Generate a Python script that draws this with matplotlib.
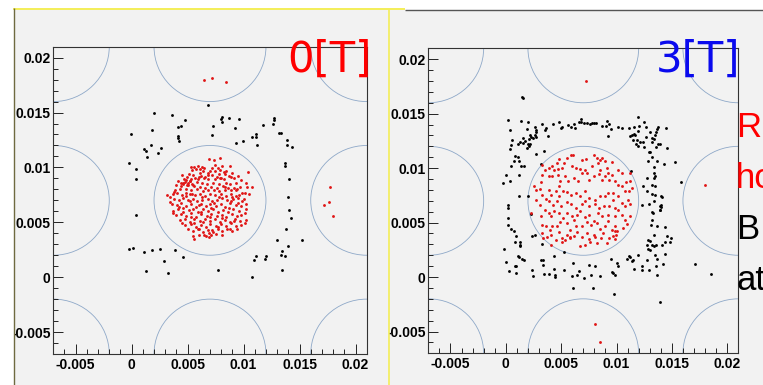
import numpy as np
import matplotlib.pyplot as plt
from matplotlib.patches import Circle, Rectangle
from matplotlib.lines import Line2D
from matplotlib.ticker import MultipleLocator, FuncFormatter

plt.rcParams['font.family'] = ['Liberation Sans', 'DejaVu Sans']
plt.rcParams['font.weight'] = 'bold'

W, H = 763, 385

# --- hit positions on the plane (mm) ---
# 0 T: red = through the central hole, black = stopped elsewhere
red_0T = [
    (6.88, 10.73), (7.38, 10.64), (7.86, 10.82),
    (6.28, 10.03), (6.07, 9.88), (6.49, 9.94), (7.41, 10.21), (8.10, 10.09), (5.33, 10.00), (5.57, 10.06),
    (5.89, 10.12), (7.17, 9.97), (7.71, 9.94), (8.78, 10.12),
    (5.42, 9.73), (5.77, 9.82), (6.37, 9.70), (6.82, 9.52), (6.96, 9.70), (7.44, 9.64), (7.92, 9.76),
    (8.21, 9.61), (8.42, 9.64), (8.96, 9.52), (10.36, 9.55), (5.09, 9.42), (6.13, 9.45), (7.83, 9.42), (8.30, 9.39),
    (4.52, 9.27), (4.94, 9.12), (5.51, 9.27), (6.16, 9.21), (6.58, 9.15), (7.17, 9.27), (7.62, 9.15),
    (8.01, 9.03), (8.69, 9.21), (8.87, 9.15), (9.46, 9.21), (4.82, 8.85), (5.24, 8.76), (5.33, 8.91),
    (5.63, 9.06), (5.89, 8.97), (6.43, 9.00), (6.85, 8.91), (7.47, 8.91), (8.21, 8.91), (9.11, 9.03), (9.76, 8.82),
    (4.17, 8.76), (4.55, 8.61), (5.06, 8.61), (5.39, 8.52), (5.80, 8.67), (6.28, 8.58), (6.73, 8.45),
    (7.23, 8.61), (7.83, 8.48), (8.39, 8.61), (8.78, 8.45), (9.32, 8.61), (10.18, 8.55), (3.93, 8.36),
    (4.43, 8.30), (4.91, 8.39),
    (5.57, 8.30), (6.13, 8.24), (6.58, 8.12), (7.11, 8.24), (7.62, 8.15), (8.13, 8.30), (8.60, 8.12),
    (9.11, 8.15), (9.70, 8.24), (10.33, 8.21), (10.74, 8.21), (4.29, 8.06), (3.90, 7.94), (4.85, 8.00),
    (5.30, 7.94), (5.83, 8.00), (6.34, 7.85), (6.82, 7.94), (7.35, 7.91), (7.80, 7.82), (8.36, 7.91),
    (8.84, 7.94), (9.38, 8.00), (9.88, 7.70),
    (3.18, 7.45), (3.66, 7.58), (4.08, 7.64), (4.46, 7.52), (4.82, 7.39), (5.21, 7.61), (5.65, 7.45),
    (6.10, 7.55), (6.58, 7.39), (7.02, 7.58), (7.47, 7.45), (8.01, 7.61), (8.45, 7.39), (8.90, 7.55),
    (9.32, 7.39), (9.61, 7.45), (10.09, 7.64), (10.48, 7.55), (3.45, 7.27),
    (3.81, 7.15), (4.23, 7.03), (4.61, 7.21), (5.03, 7.00), (5.45, 7.12), (5.86, 6.91), (6.31, 7.03),
    (6.79, 7.12), (7.17, 6.91), (7.62, 7.03), (8.07, 7.18), (8.54, 7.00), (9.02, 7.09), (9.46, 7.21),
    (9.82, 6.91), (3.42, 6.85),
    (3.60, 6.67), (4.05, 6.58), (4.40, 6.76), (4.88, 6.48), (5.30, 6.64), (5.71, 6.42), (6.16, 6.70),
    (6.64, 6.52), (7.02, 6.67), (7.50, 6.48), (7.95, 6.64), (8.36, 6.42), (8.81, 6.73), (9.29, 6.55),
    (9.76, 6.48), (10.24, 6.64), (4.61, 6.33),
    (3.72, 6.03), (4.14, 6.18), (5.09, 6.09), (5.51, 6.21), (5.92, 5.94), (6.40, 6.18), (6.82, 6.03),
    (7.26, 6.24), (7.71, 5.97), (8.15, 6.15), (8.60, 5.94), (9.08, 6.18), (9.55, 6.03), (10.21, 6.18), (3.66, 5.88),
    (3.99, 5.67), (4.43, 5.79), (4.88, 5.58), (5.33, 5.82), (5.77, 5.48), (6.22, 5.73), (6.70, 5.55),
    (7.11, 5.79), (7.59, 5.55), (8.04, 5.70), (8.45, 5.52), (8.93, 5.76), (9.38, 5.55), (9.79, 5.70), (10.15, 5.88),
    (4.29, 5.21), (4.73, 5.33), (5.18, 5.06), (5.60, 5.27), (6.07, 5.12), (6.52, 5.33), (6.96, 5.09),
    (7.41, 5.27), (7.86, 5.03), (8.30, 5.21), (8.75, 5.06), (9.23, 5.33), (9.70, 5.12), (10.18, 5.21), (4.49, 4.97),
    (4.76, 4.73), (5.27, 4.88), (5.71, 4.61), (6.16, 4.79), (6.61, 4.61), (7.02, 4.88), (7.50, 4.67),
    (7.95, 4.82), (8.42, 4.64), (8.84, 4.91), (9.29, 4.67), (9.76, 4.79), (10.12, 4.97),
    (5.00, 4.36), (5.45, 4.18), (5.89, 4.42), (6.37, 4.12), (6.79, 4.30), (7.23, 4.12), (7.68, 4.42),
    (8.10, 4.24), (8.54, 4.36), (8.99, 4.18), (9.38, 4.42), (6.88, 4.06),
    (5.51, 3.76), (6.04, 3.88), (6.64, 3.79), (7.05, 3.85), (7.53, 3.97), (8.07, 3.85), (5.57, 3.52), (6.88, 3.67),
    (4.6, 8.5), (4.8, 8.7), (5.0, 8.4), (4.7, 8.9), (5.2, 8.8), (4.4, 8.6), (5.5, 8.4), (6.0, 9.1),
    (6.8, 9.3), (7.9, 9.0), (8.3, 8.2), (9.0, 7.3), (7.8, 7.3), (6.3, 7.3), (5.4, 7.6), (4.9, 7.7),
    (8.9, 6.9), (7.4, 6.8), (6.0, 6.6), (5.2, 6.9), (4.2, 6.4), (9.5, 6.8), (8.7, 6.3), (7.1, 6.3),
    (6.2, 5.9), (5.3, 5.5), (4.6, 5.9), (8.1, 5.4), (9.1, 5.1), (7.0, 5.5), (6.4, 5.0), (5.6, 4.9),
    (7.7, 4.6), (8.8, 4.4), (6.0, 4.4), (7.2, 4.3), (6.5, 3.8), (9.3, 7.9), (3.8, 7.8), (10.0, 7.1),
    # neighbouring holes
    (6.49, 17.94), (7.20, 18.12), (8.39, 17.76),
    (17.68, 8.24), (17.62, 6.88), (17.20, 6.58), (17.95, 5.61),
]

black_0T = [
    (6.85, 15.70), (-0.03, 13.00), (1.96, 14.94), (3.63, 14.82), (1.79, 13.39), (4.76, 14.33),
    (4.37, 13.76), (4.11, 13.70), (8.09, 14.57), (8.01, 14.45), (8.04, 14.15), (7.23, 13.79),
    (9.58, 14.42), (9.26, 13.57), (7.14, 12.91), (4.14, 12.85), (4.14, 12.67), (4.26, 12.42),
    (1.10, 11.64), (1.25, 11.51), (1.40, 10.94), (1.76, 12.00), (2.65, 11.79), (2.32, 11.30),
    (-0.21, 10.39), (0.42, 9.82), (0.42, 8.94), (0.42, 5.70), (9.31, 12.18), (9.94, 12.42),
    (10.71, 12.76), (11.07, 12.76), (11.10, 13.00), (11.16, 12.03), (11.76, 13.85), (12.68, 14.51),
    (12.68, 14.36), (12.65, 13.97), (13.18, 13.18), (13.30, 13.12), (13.87, 12.51), (13.87, 12.00),
    (14.29, 11.82), (13.69, 10.39), (13.69, 10.12), (14.02, 8.94), (13.99, 7.30), (14.02, 6.09),
    (14.26, 5.42), (13.78, 4.36), (15.21, 3.42), (12.95, 3.42), (13.99, 2.85), (13.45, 2.39),
    (13.36, 2.06), (13.69, 1.91), (13.42, 0.61), (12.02, 1.97), (11.93, 1.67), (11.13, 1.97),
    (10.89, 1.58), (10.71, 0.06), (7.68, 0.61), (4.58, 1.82), (3.90, 2.48), (2.92, 1.48),
    (3.27, 0.36), (2.56, 2.55), (1.79, 2.48), (1.07, 2.30), (1.25, 0.55), (0.12, 2.64),
    (-0.21, 2.55), (8.72, 14.51),
]

# 3 T
red_3T = [
    (5.24, 10.46), (5.54, 10.89), (5.89, 11.19), (6.10, 11.22), (6.91, 10.70), (7.27, 10.83), (7.99, 11.25),
    (8.23, 10.92), (8.47, 10.76), (8.68, 10.89), (8.98, 10.61), (9.58, 10.52), (4.79, 10.83), (4.64, 10.46),
    (4.19, 10.24), (3.29, 10.31), (3.53, 9.85), (3.89, 10.00), (4.34, 9.85), (4.70, 9.91), (5.09, 10.00),
    (5.98, 10.15), (6.37, 10.00), (6.73, 9.91), (7.18, 9.79), (7.78, 10.15), (8.32, 10.46), (8.53, 9.85),
    (9.13, 10.00), (9.22, 9.54), (9.58, 9.39), (10.17, 9.79), (10.47, 9.54), (11.22, 9.54),
    (3.14, 8.69), (3.29, 9.39), (3.89, 9.24), (4.19, 9.24), (4.67, 9.33), (4.79, 8.32), (4.94, 8.78),
    (5.39, 9.24), (5.63, 8.78), (6.13, 9.08), (6.52, 8.78), (6.88, 9.54), (7.33, 9.54), (7.54, 8.93),
    (7.93, 9.30), (8.38, 9.48), (8.68, 8.93), (8.98, 9.24), (9.28, 8.93), (9.87, 8.78), (10.17, 8.47),
    (10.53, 8.32), (10.83, 8.69), (11.22, 8.78),
    (2.54, 8.32), (2.69, 7.95), (3.05, 8.07), (3.29, 7.55), (3.89, 8.01), (4.04, 7.55), (4.49, 7.86),
    (4.79, 7.40), (5.15, 7.92), (5.57, 7.77), (5.92, 7.55), (6.34, 7.71), (6.73, 7.40), (7.18, 7.86),
    (7.48, 7.25), (8.02, 7.09), (8.53, 7.40), (8.98, 7.40), (9.22, 7.71), (9.72, 7.71), (10.17, 7.40),
    (10.47, 6.79), (10.77, 7.86), (11.16, 7.92), (11.37, 8.17),
    (2.69, 7.09), (3.08, 6.64), (3.59, 7.16), (3.89, 6.94), (4.28, 6.64), (4.64, 6.94), (5.03, 6.48),
    (5.51, 6.85), (5.92, 6.73), (6.34, 6.33), (6.88, 6.67), (7.12, 6.94), (7.54, 6.48), (8.02, 6.73),
    (8.38, 6.33), (8.83, 6.48), (9.28, 6.48), (9.72, 7.09), (9.87, 6.33), (10.17, 6.18), (10.77, 6.48),
    (11.22, 6.73), (11.01, 7.09),
    (2.24, 5.87), (3.17, 5.57), (3.50, 6.18), (3.89, 5.87), (4.10, 5.57), (4.34, 6.02), (4.79, 5.87),
    (5.15, 5.41), (5.54, 5.87), (5.98, 5.57), (6.43, 5.72), (6.73, 6.02), (7.18, 5.50), (7.54, 5.72),
    (7.93, 5.11), (8.32, 5.87), (8.68, 5.57), (9.22, 5.72), (9.87, 5.57), (10.53, 5.72), (10.77, 5.26),
    (11.22, 5.57),
    (3.29, 4.80), (3.59, 4.65), (3.98, 4.34), (4.19, 4.65), (4.64, 4.65), (4.94, 5.02), (5.54, 4.95),
    (5.83, 4.34), (6.13, 5.26), (6.37, 4.65), (6.88, 4.65), (7.33, 5.02), (7.72, 4.80), (8.23, 4.95),
    (8.53, 4.40), (8.92, 4.65), (9.22, 5.11), (9.63, 4.34), (9.87, 4.65), (10.08, 4.19), (10.62, 4.50),
    (10.92, 4.89),
    (3.40, 3.60), (3.29, 4.04), (3.74, 3.67), (4.04, 3.88), (4.49, 3.43), (4.79, 4.10), (5.09, 3.58),
    (5.54, 3.88), (5.83, 3.58), (6.13, 3.73), (6.43, 4.10), (6.88, 3.67), (7.33, 4.04), (7.93, 3.88),
    (8.08, 3.67), (8.74, 4.04), (9.28, 3.58), (9.72, 3.73), (9.87, 4.19), (9.96, 3.88),
    (4.04, 2.97), (5.09, 3.18), (5.39, 3.43), (5.83, 3.67), (6.73, 2.81), (7.18, 2.97), (7.63, 3.18),
    (8.23, 3.12), (8.62, 3.58), (9.13, 3.12), (9.87, 3.49), (7.54, 3.49),
    # neighbouring holes
    (7.28, 18.04), (8.08, -4.28), (8.47, -5.96), (17.96, 8.41),
]

black_3T = [
    (1.44, 16.57), (1.56, 16.48), (0.21, 14.43), (1.41, 14.37), (1.97, 14.25), (0.39, 13.52), (1.92, 13.55),
    (2.60, 13.73), (2.69, 13.52), (2.72, 13.30), (2.63, 13.06), (2.72, 12.84), (2.48, 12.75), (2.18, 13.06),
    (2.30, 12.87), (2.09, 12.63), (1.56, 12.75), (1.74, 12.51), (1.53, 12.29), (1.26, 12.39), (1.14, 12.26),
    (2.03, 12.26), (2.21, 12.20), (2.06, 12.05), (1.92, 11.83), (0.54, 12.54), (0.48, 12.14), (0.36, 11.77),
    (0.81, 11.07), (1.11, 10.98), (0.75, 10.67), (1.20, 10.67), (0.48, 10.15), (1.35, 10.24), (1.68, 10.21),
    (2.69, 11.28), (3.44, 11.59), (3.20, 10.34), (3.23, 14.04), (3.62, 13.67), (3.53, 13.52), (3.80, 12.97),
    (4.25, 14.04), (4.79, 14.19), (5.09, 13.82), (4.97, 13.64), (5.66, 13.98), (5.92, 13.79), (6.22, 13.67),
    (6.16, 14.04), (6.58, 14.19), (6.79, 14.53), (6.76, 14.28), (7.06, 14.16), (7.36, 14.10), (7.63, 14.04),
    (7.78, 14.10), (7.99, 14.10), (8.11, 14.10), (8.68, 13.85), (9.16, 14.31), (9.07, 13.91), (9.31, 14.07),
    (9.46, 13.55), (9.19, 12.94), (10.14, 13.79), (10.50, 13.64), (11.13, 13.64), (11.61, 13.82),
    (11.94, 14.68), (12.48, 14.22), (12.69, 13.73), (12.03, 13.85), (11.91, 13.43), (11.37, 13.06),
    (11.55, 13.15), (11.70, 13.00), (11.22, 12.91), (11.49, 12.60), (11.82, 12.60), (12.09, 12.39),
    (11.97, 11.99), (11.76, 12.26), (12.36, 12.39), (12.69, 12.87), (13.20, 12.81), (13.02, 13.30),
    (13.20, 12.39), (13.79, 12.26), (13.97, 12.17), (13.58, 11.96), (13.73, 13.82), (13.67, 13.61),
    (13.58, 13.36), (13.44, 13.06), (13.35, 12.69), (14.51, 13.67), (14.54, 11.83), (12.48, 11.96),
    (12.90, 11.44), (13.05, 11.44), (13.20, 10.98), (12.87, 10.61), (13.67, 10.67), (13.35, 10.09),
    (14.30, 10.37), (15.32, 10.55),
    (0.06, 9.33), (1.20, 9.39), (0.39, 8.84), (-0.24, 8.62), (1.23, 7.46), (2.00, 7.46), (0.18, 6.64),
    (0.21, 6.33), (2.24, 5.81), (0.21, 5.41), (0.21, 4.80), (0.51, 4.40), (0.75, 4.19), (0.93, 3.73),
    (2.33, 3.79), (2.63, 3.85), (11.31, 9.69), (12.72, 9.08), (13.38, 9.54), (13.44, 9.30), (13.38, 9.08),
    (12.42, 8.32), (13.17, 8.47), (13.47, 8.32), (12.75, 7.86), (13.17, 7.61), (13.47, 7.55), (14.03, 7.46),
    (14.09, 7.34), (12.27, 6.64), (12.96, 6.73), (14.00, 6.64), (14.06, 6.42), (13.94, 6.12), (13.17, 5.93),
    (13.20, 5.26), (13.08, 4.74), (13.64, 4.65), (14.36, 4.59), (13.41, 3.88), (12.87, 3.43), (13.05, 3.33),
    (14.60, 3.73), (14.93, 3.58), (14.87, 3.18), (14.36, 3.24), (15.80, 8.72), (13.32, 5.87), (13.41, 6.94),
    (13.94, 6.48), (13.94, 6.18),
    (0.84, 3.18), (1.26, 3.21), (1.32, 2.91), (1.26, 2.81), (-0.15, 2.57), (1.14, 1.96), (1.23, 1.83),
    (0.84, 1.04), (0.96, 0.98), (0.03, 1.38), (0.30, 0.52), (0.93, 0.37), (1.50, 1.65), (1.62, 1.53),
    (2.33, 0.61), (2.45, 0.06), (3.29, 2.99), (3.20, 1.59), (3.35, 1.53), (3.38, 1.07), (3.41, 0.24),
    (3.89, 0.31), (4.34, 1.90), (4.34, 0.73), (4.40, 0.21), (4.43, 0.00), (5.27, 2.26), (5.30, 0.61),
    (6.07, 1.28), (5.95, 0.12), (6.58, 0.58), (6.43, 0.21), (6.10, -1.04), (7.03, -0.09), (7.48, 1.10),
    (7.66, 0.18), (8.02, 1.04), (7.87, -0.98), (8.53, 0.12), (9.46, 1.68), (9.58, 0.49), (9.72, 0.34),
    (9.90, 0.21), (10.05, 1.28), (10.11, 0.98), (9.81, -1.53), (10.92, 1.65), (11.10, 1.96), (11.22, 1.80),
    (11.43, 1.44), (11.52, 1.53), (11.58, 0.76), (11.97, 1.99), (12.27, 1.04), (12.30, 0.67), (12.75, 1.53),
    (12.93, 0.67), (13.55, 0.98), (13.47, 2.05), (13.64, 1.65), (13.70, 0.21), (14.21, 1.22), (14.42, 2.08),
    (12.72, 2.97), (13.17, 2.94), (13.38, 2.87), (13.61, 2.91), (14.15, 2.91), (12.87, 2.57), (13.02, 2.51),
    (13.97, -2.26), (17.09, 1.19), (18.49, 0.24),
]

# hole lattice (mm)
hole_centres = [-7.0, 7.0, 21.0]
hole_radius = 5.0
axis_range = (-0.007, 0.021)

field_labels = ['0[T]', '3[T]']
field_colours = ['#ff0000', '#0a0aee']
side_lines = ['R', 'ho', 'B', 'at']
side_colours = ['#ff0000', '#ff0000', 'black', 'black']

PANEL_GREY = '#f2f2f2'
HOLE_BLUE = '#8ea8c8'
HIT_RED = '#e01515'


def px_rect(x0, y0, x1, y1):
    """pixel box measured from the top-left -> [left, bottom, width, height] in figure fraction"""
    return [x0 / W, 1 - y1 / H, (x1 - x0) / W, (y1 - y0) / H]


def fig_line(x0, y0, x1, y1, color, lw):
    fig.add_artist(Line2D([x0 / W, x1 / W], [1 - y0 / H, 1 - y1 / H], transform=fig.transFigure,
                          color=color, lw=lw, zorder=11, solid_capstyle='butt'))


def fig_box(x0, y0, x1, y1, color, z):
    l, b, w, h = px_rect(x0, y0, x1, y1)
    fig.add_artist(Rectangle((l, b), w, h, transform=fig.transFigure, facecolor=color,
                             edgecolor='none', zorder=z))


def tick_fmt(v, pos):
    return f"{round(v, 6) + 0.0:g}"


def draw_hits(ax, red, black):
    ax.set_facecolor(PANEL_GREY)
    for cx in hole_centres:
        for cy in hole_centres:
            ax.add_patch(Circle((cx * 1e-3, cy * 1e-3), hole_radius * 1e-3, fill=False,
                                edgecolor=HOLE_BLUE, lw=0.6))
    for pts, colour in ((black, 'black'), (red, HIT_RED)):
        xy = np.array(pts) * 1e-3
        ax.scatter(xy[:, 0], xy[:, 1], s=4.2, c=colour, marker='o', linewidths=0, zorder=3)
    ax.set_xlim(axis_range)
    ax.set_ylim(axis_range)
    for axis in (ax.xaxis, ax.yaxis):
        axis.set_major_locator(MultipleLocator(0.005))
        axis.set_minor_locator(MultipleLocator(0.001))
        axis.set_major_formatter(FuncFormatter(tick_fmt))
    ax.tick_params(which='both', direction='in', top=False, right=False, color='#222222', width=0.7)
    ax.tick_params(which='major', length=7, labelsize=10)
    ax.tick_params(axis='x', which='major', pad=3)
    ax.tick_params(axis='y', which='major', pad=2)
    ax.tick_params(which='minor', length=3.5)
    for sp in ax.spines.values():
        sp.set_color('#333333')
        sp.set_linewidth(0.8)


fig = plt.figure(figsize=(W / 100, H / 100), dpi=100)
fig.patch.set_facecolor('white')

# slide panels behind the plots
fig_box(14, 9, 388, H, PANEL_GREY, -1)
fig_box(389, 10, W, H, PANEL_GREY, -1)

ax0 = fig.add_axes(px_rect(53.3, 46.7, 366.7, 354))
ax1 = fig.add_axes(px_rect(428.3, 48.3, 738.3, 353.3))
draw_hits(ax0, red_0T, black_0T)
draw_hits(ax1, red_3T, black_3T)

# panel edges (drawn over the overhanging tick labels)
fig_box(0, 0, 13.5, H, 'white', 10)
fig_box(378, 9, 389, H, PANEL_GREY, 10)
fig_line(13, 8.5, 405, 8.5, '#f4ee58', 1.4)
fig_line(405, 9.5, W, 9.5, '#555555', 1.0)
fig_line(14, 8, 14, H, '#6e6a40', 1.0)
fig_line(389, 9, 389, H, '#f4ee58', 1.2)

# field strength labels
for x_right, label, colour in zip((372, 740), field_labels, field_colours):
    fig.text(x_right / W, 1 - 72 / H, label, ha='right', va='baseline', fontsize=30,
             color=colour, family='DejaVu Sans', fontweight='normal', zorder=12)

# slide text running off the right edge
for i, (txt, colour) in enumerate(zip(side_lines, side_colours)):
    fig.text(736 / W, 1 - (137 + 51 * i) / H, txt, ha='left', va='baseline', fontsize=25,
             color=colour, fontweight='normal', zorder=12)

fig.savefig('out.png', dpi=100)
